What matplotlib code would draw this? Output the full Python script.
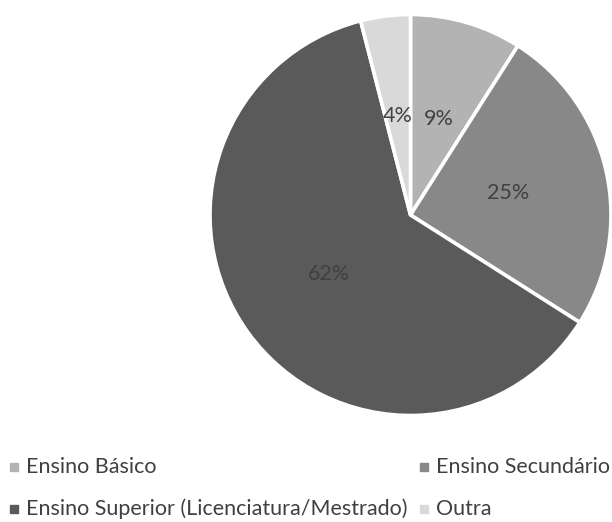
import matplotlib.pyplot as plt
from matplotlib.lines import Line2D

# Escolaridade dos inquiridos
categorias = ["Ensino Básico", "Ensino Secundário",
              "Ensino Superior (Licenciatura/Mestrado)", "Outra"]
percentagens = [9, 25, 62, 4]
cores = ["#b3b3b3", "#888888", "#5a5a5a", "#d9d9d9"]

plt.rcParams['font.family'] = ['Lato', 'DejaVu Sans']
W, H = 612, 522
fig = plt.figure(figsize=(W / 100, H / 100), dpi=100)

# pie centred at (410.5, 215) px with radius 200.5 px
cx, cy, r = 410.5, 215, 200.5
ax = fig.add_axes([(cx - r) / W, (H - cy - r) / H, 2 * r / W, 2 * r / H])
wedges, texts, autotexts = ax.pie(
    percentagens, colors=cores, startangle=90, counterclock=False,
    autopct='%1.0f%%', pctdistance=0.5, radius=1,
    wedgeprops=dict(edgecolor='white', linewidth=2.6),
    textprops=dict(color='#404040', fontsize=15.5))
ax.set_xlim(-1, 1)
ax.set_ylim(-1, 1)
ax.set_aspect('equal')
ax.axis('off')

# legend in two columns
posicoes = [(14, 467), (424, 467), (14, 509), (424, 509)]
for (x, y), nome, cor in zip(posicoes, categorias, cores):
    fig.add_artist(Line2D([x / W], [1 - y / H], marker='s', markersize=6,
                          color=cor, linestyle='none',
                          transform=fig.transFigure))
    fig.text((x + 12) / W, 1 - y / H, nome, fontsize=15.5, color='#404040',
             va='center', ha='left')

fig.savefig('out.png', dpi=100, facecolor='white')
